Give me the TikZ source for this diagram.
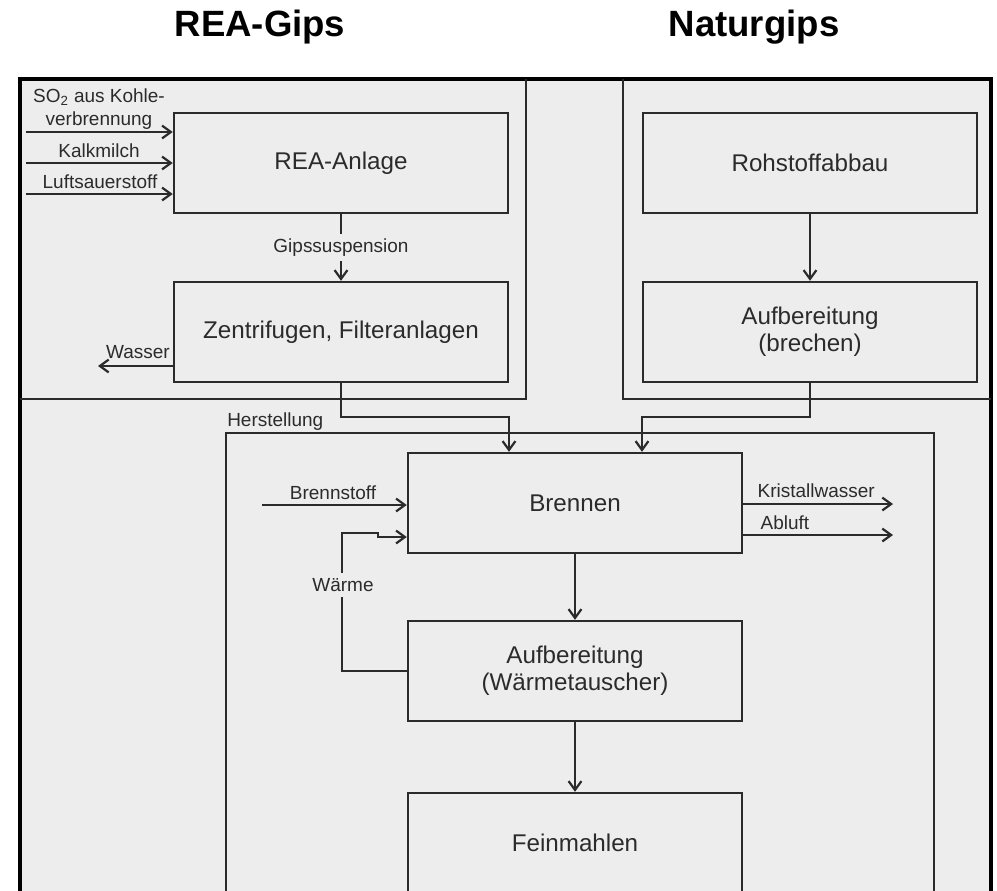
\documentclass[tikz,border=0pt]{standalone}
\usepackage{fontspec}
\setmainfont{Liberation Sans}
\usetikzlibrary{arrows.meta,positioning}
\definecolor{bggray}{HTML}{EDEDED}
\definecolor{linegray}{HTML}{2B2B2B}
\tikzset{
  prozess/.style={draw=linegray, line width=0.06cm, minimum width=8.35cm, minimum height=2.5cm,
    align=center, text=linegray, font=\fontsize{17.2}{19.5}\selectfont},
  fluss/.style={draw=linegray, line width=0.055cm, -{Straight Barb[length=2.2mm,width=3.2mm]}},
  linie/.style={draw=linegray, line width=0.055cm},
  etikett/.style={font=\fontsize{13.5}{16}\selectfont, text=linegray, inner sep=1pt, align=center},
  titel/.style={font=\bfseries\fontsize{26}{30}\selectfont, anchor=base}
}
\begin{document}
\begin{tikzpicture}[x=0.025cm,y=-0.025cm]
\useasboundingbox (0,0) rectangle (997,890);
\clip (0,0) rectangle (997,890);
%\draw[step=50,gray,very thin] (0,0) grid (997,890); %background grid

% frame and regions
\fill[bggray] (20,79) rectangle (991,960);
\draw[line width=0.1cm] (20,79) rectangle (991,960);
\draw[linie] (526,79) -- (526,399) -- (20,399);   % REA-Gips
\draw[linie] (623,79) -- (623,399) -- (991,399);  % Naturgips
\draw[linie] (226,960) |- (934,433) -- (934,960); % Herstellung

\node[titel] (trea) at (260,36) {REA-Gips};
\node[titel] (tnat) at (754,36) {Naturgips};

% boxes
\node[prozess] (rea)     at (341,163) {REA-Anlage};
\node[prozess] (zentr)   at (341,332) {Zentrifugen, Filteranlagen};
\node[prozess] (roh)     at (810,163) {Rohstoffabbau};
\node[prozess] (aufb)    at (810,332) {Aufbereitung\\(brechen)};
\node[prozess] (brennen) at (575,503) {Brennen};
\node[prozess] (waerme)  at (575,671) {Aufbereitung\\(Wärmetauscher)};
\node[prozess] (fein)    at (575,843) {Feinmahlen};

% inputs REA
\coordinate (so)   at (26,132);
\coordinate (kalk) at (26,163);
\coordinate (luft) at (26,194);
\draw[fluss] (so) -- (so -| rea.west);
\draw[fluss] (kalk) -- (kalk -| rea.west);
\draw[fluss] (luft) -- (luft -| rea.west);
\node[etikett] (lso)   at (99,109) {SO\textsubscript{2} aus Kohle-\\verbrennung};
\node[etikett] (lkalk) at (99,151) {Kalkmilch};
\node[etikett] (lluft) at (100,182) {Luftsauerstoff};

\draw[fluss] (rea.south) -- node[etikett,fill=bggray,inner sep=3pt] (lgips) {Gipssuspension} (rea.south |- zentr.north);

\coordinate (wass) at (98,366);
\draw[fluss] (wass -| zentr.west) -- (wass);
\node[etikett] (lwass) at (138,352) {Wasser};

% to Herstellung
\coordinate (jl) at (509,417);
\coordinate (jr) at (642,417);
\draw[fluss] (roh) -- (aufb);
\draw[fluss] (zentr.south) |- (jl) -- (jl |- brennen.north);
\draw[fluss] (aufb.south) |- (jr) -- (jr |- brennen.north);
\node[etikett,anchor=south west,inner sep=0pt] (lhst) at (227,431) {Herstellung};

% Brennen
\coordinate (bs) at (262,505);
\draw[fluss] (bs) -- (bs -| brennen.west);
\node[etikett] (lbs) at (333,493) {Brennstoff};

\coordinate (wk) at (342,533);
\coordinate (wj) at (378,537);
\draw[fluss] (waerme.west) -| (wk) -- (wk -| wj) -- (wj) -- (wj -| brennen.west);
\node[etikett,fill=bggray,inner sep=4pt] (lwk) at (343,585) {Wärme};

\coordinate (kw) at (893,504);
\coordinate (ab) at (893,535);
\draw[fluss] (kw -| brennen.east) -- (kw);
\draw[fluss] (ab -| brennen.east) -- (ab);
\node[etikett,anchor=west] (lkw) at (756,491) {Kristallwasser};
\node[etikett,anchor=west] (lab) at (759,523) {Abluft};

\draw[fluss] (brennen) -- (waerme);
\draw[fluss] (waerme) -- (fein);
\end{tikzpicture}
\end{document}
